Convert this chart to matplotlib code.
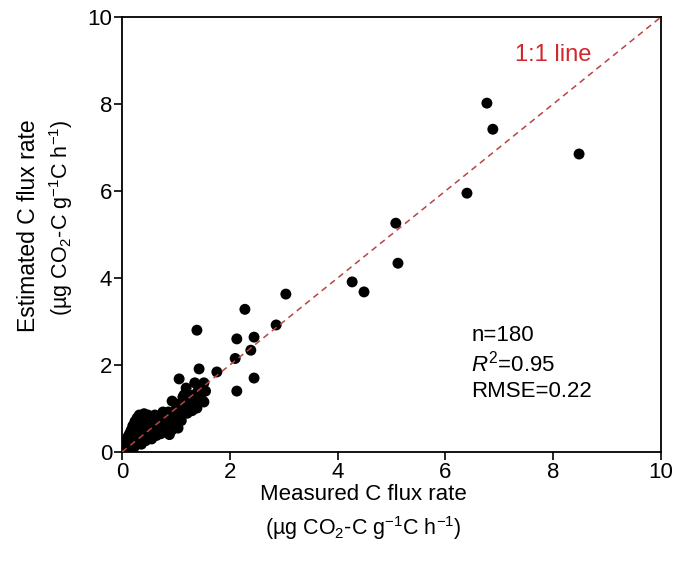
import numpy as np
import matplotlib
matplotlib.use('Agg')
import matplotlib.pyplot as plt

plt.rcParams['font.family'] = ['Liberation Sans', 'DejaVu Sans']
plt.rcParams['mathtext.fontset'] = 'custom'
plt.rcParams['mathtext.rm'] = 'Liberation Sans'
plt.rcParams['mathtext.it'] = 'Liberation Sans:italic'

# measured vs estimated C flux rate
measured = [6.77, 6.88, 8.48, 6.40, 5.08, 5.12, 4.27, 4.49, 3.04, 2.28, 2.86, 2.13, 2.45,
            2.39, 2.10, 2.45, 2.13, 1.39, 1.43, 1.76, 1.06, 1.35, 1.52, 1.19, 1.15, 0.93,
            1.50, 1.32, 1.11, 0.76, 0.95, 1.21, 1.39, 0.93, 1.52, 1.13,
            0.02, 0.04, 0.05, 0.06, 0.08, 0.09, 0.10, 0.11, 0.12, 0.13, 0.14, 0.15, 0.16,
            0.17, 0.18, 0.19, 0.20, 0.21, 0.22, 0.23, 0.24, 0.25, 0.26, 0.27, 0.28, 0.29,
            0.30, 0.31, 0.32, 0.33, 0.34, 0.35, 0.36, 0.37, 0.38, 0.40, 0.41, 0.42, 0.44,
            0.45, 0.46, 0.48, 0.49, 0.50, 0.52, 0.53, 0.55, 0.56, 0.58, 0.59, 0.61, 0.62,
            0.64, 0.65, 0.67, 0.68, 0.70, 0.72, 0.73, 0.75, 0.76, 0.78, 0.80, 0.81, 0.83,
            0.85, 0.86, 0.88, 0.90, 0.92, 0.95, 0.97, 1.00, 1.02, 1.04, 1.06, 1.08, 1.10,
            1.12, 1.15, 1.18, 1.20, 1.25, 1.28, 1.30, 1.35, 1.40, 1.45, 1.48, 1.55]
estimated = [8.02, 7.42, 6.85, 5.95, 5.26, 4.34, 3.91, 3.68, 3.63, 3.28, 2.92, 2.60, 2.64,
             2.34, 2.15, 1.70, 1.40, 2.80, 1.91, 1.84, 1.68, 1.59, 1.59, 1.47, 1.31, 1.17,
             1.17, 1.03, 1.03, 0.92, 0.89, 0.89, 1.01, 0.51, 1.15, 1.26,
             0.05, 0.12, 0.02, 0.20, 0.08, 0.28, 0.15, 0.35, 0.05, 0.22, 0.42, 0.12, 0.30,
             0.50, 0.18, 0.38, 0.60, 0.08, 0.26, 0.45, 0.70, 0.15, 0.55, 0.33, 0.78, 0.22,
             0.62, 0.42, 0.85, 0.28, 0.72, 0.50, 0.18, 0.80, 0.36, 0.65, 0.88, 0.45, 0.26,
             0.75, 0.55, 0.85, 0.38, 0.62, 0.48, 0.78, 0.30, 0.58, 0.70, 0.44, 0.85, 0.55,
             0.38, 0.68, 0.50, 0.78, 0.60, 0.42, 0.72, 0.55, 0.88, 0.64, 0.48, 0.80, 0.70,
             0.58, 0.92, 0.40, 0.75, 0.62, 0.85, 0.70, 0.98, 0.80, 0.55, 1.10, 0.90, 0.72,
             1.15, 0.98, 1.22, 1.05, 1.12, 1.30, 0.95, 1.20, 1.38, 1.25, 1.50, 1.40]

ticks = [0, 2, 4, 6, 8, 10]
stats = ['n=180', '$\\mathit{R}^2$=0.95', 'RMSE=0.22']
unit = '(µg CO$_2$-C g$^{-1}$C h$^{-1}$)'

W, H = 678, 561
fig = plt.figure(figsize=(W / 100, H / 100), dpi=100)
ax = fig.add_axes([122 / W, 1 - 452 / H, (661 - 122) / W, (452 - 17) / H])

ax.scatter(measured, estimated, s=62, color='black', edgecolors='none', zorder=2)
ax.plot([0, 10], [0, 10], color='#b84444', lw=1.1, dashes=(4, 3), zorder=3)

ax.set_xlim(0, 10)
ax.set_ylim(0, 10)
ax.set_xticks(ticks)
ax.set_yticks(ticks)
ax.tick_params(direction='out', length=6, width=1.2, labelsize=16, pad=1,
               top=False, right=False)
for sp in ax.spines.values():
    sp.set_linewidth(1.3)

ax.text(8.0, 9.13, '1:1 line', color='#d0282e', fontsize=17, ha='center', va='center')
for i, s in enumerate(stats):
    ax.text(6.48, 2.67 - i * 0.645, s, fontsize=16, ha='left', va='center')

fig.text(363 / W, 1 - 495 / H, 'Measured C flux rate', fontsize=16, ha='center', va='center')
fig.text(363 / W, 1 - 528 / H, unit, fontsize=15.5, ha='center', va='center')
fig.text(29 / W, 1 - 226 / H, 'Estimated C flux rate', fontsize=16.5, rotation=90,
         ha='center', va='center')
fig.text(61 / W, 1 - 218 / H, unit, fontsize=15.5, rotation=90, ha='center', va='center')

fig.savefig('out.png', dpi=100)
